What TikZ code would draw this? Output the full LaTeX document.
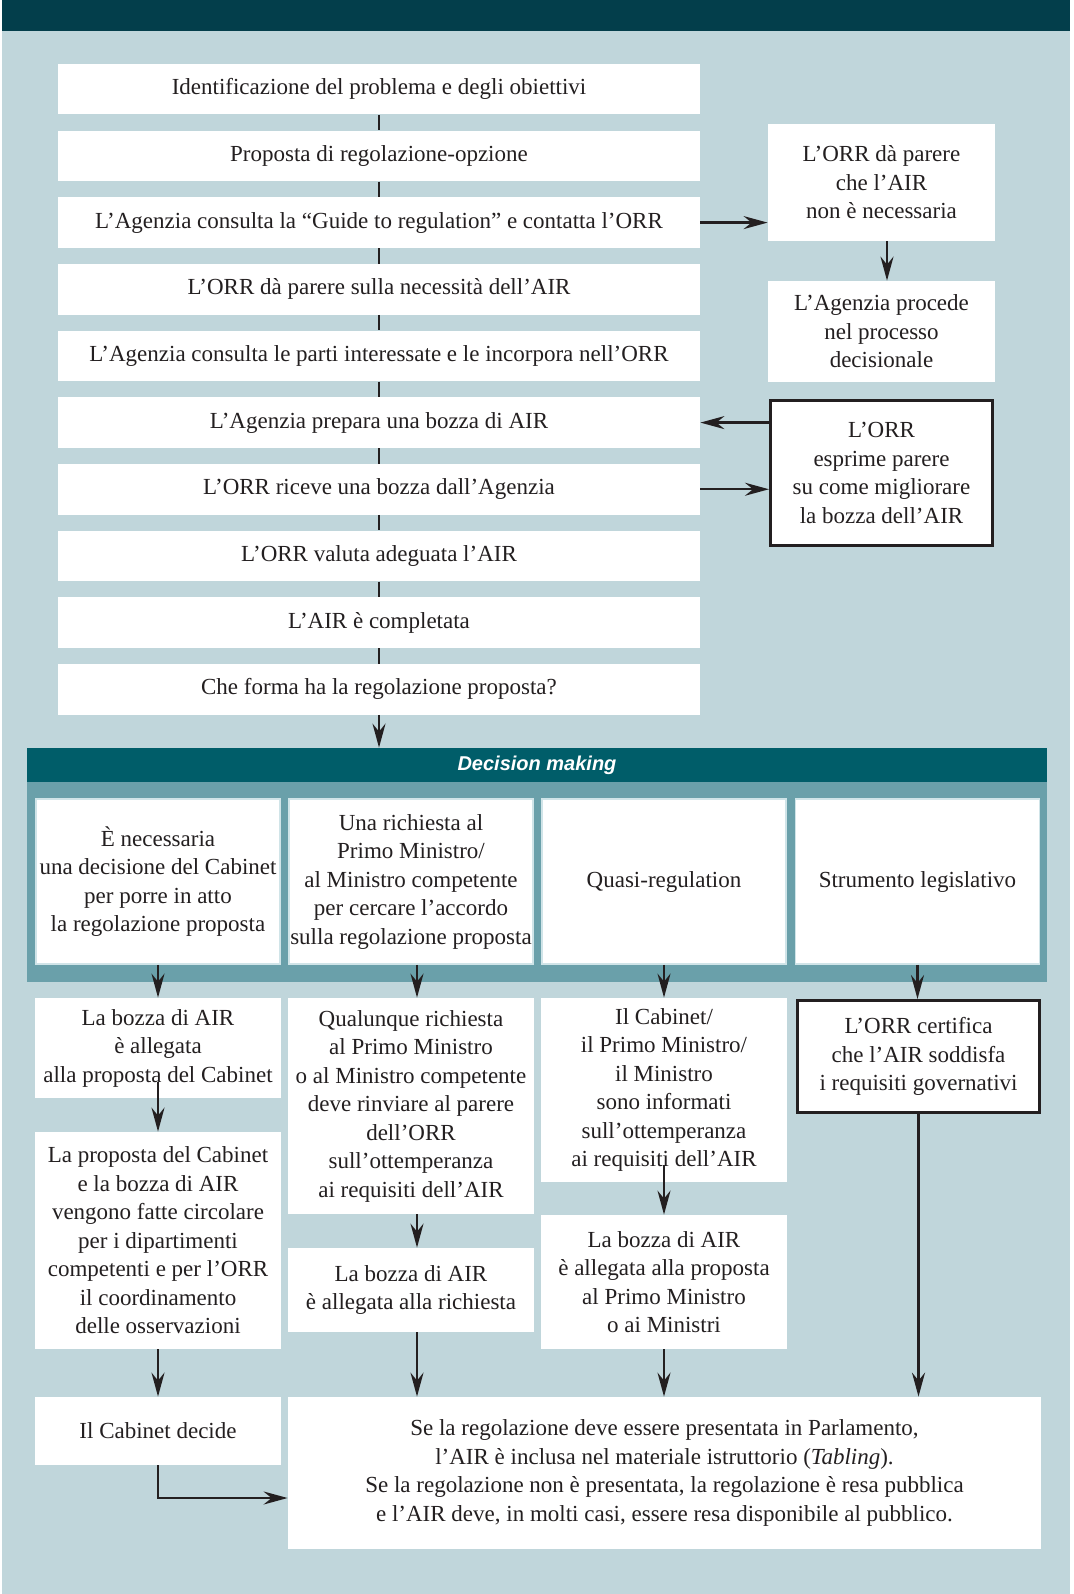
\documentclass[tikz,border=0pt]{standalone}
\usepackage{fontspec}
\setmainfont{Liberation Serif}
\newfontfamily\headfont{Liberation Sans}
\usetikzlibrary{arrows.meta}

\definecolor{topbar}{RGB}{3,62,75}
\definecolor{bgc}{RGB}{192,214,219}
\definecolor{dmhead}{RGB}{0,93,105}
\definecolor{dmframe}{RGB}{106,160,170}
\definecolor{innerline}{RGB}{208,228,232}
\definecolor{linec}{RGB}{35,31,32}

\begin{document}
\begin{tikzpicture}[x=0.5pt,y=-0.5pt,
  txt/.style={font=\fontsize{11.5}{14.25}\selectfont, align=center, inner sep=0pt, text=linec},
  box/.style={txt, fill=white},
  mainbox/.style={box, minimum width=321pt, minimum height=25.25pt},
  sidebox/.style={box, minimum width=113.5pt},
  colbox/.style={box, minimum width=123pt},
  framed/.style={draw=linec, line width=1.3pt},
  optbox/.style={box, draw=innerline, line width=0.75pt, minimum width=122pt, minimum height=82.5pt},
  link/.style={draw=linec, line width=1pt},
  arr/.style={draw=linec, line width=1.2pt, -{Stealth[length=12pt,width=6.5pt,inset=4pt]}}
]
\useasboundingbox (0,0) rectangle (1073,1594);
% page background and title band
\fill[white] (0,0) rectangle (1073,1594);
\fill[bgc] (2,0) rectangle (1070,1594);
\fill[topbar] (2,0) rectangle (1070,31);

% main sequence
\node[mainbox] (m1) at (379,89.25) {Identificazione del problema e degli obiettivi};
\node[mainbox] (m2) at (379,155.9) {Proposta di regolazione-opzione};
\node[mainbox] (m3) at (379,222.6) {L’Agenzia consulta la “Guide to regulation” e contatta l’ORR};
\node[mainbox] (m4) at (379,289.25) {L’ORR dà parere sulla necessità dell’AIR};
\node[mainbox] (m5) at (379,355.9) {L’Agenzia consulta le parti interessate e le incorpora nell’ORR};
\node[mainbox] (m6) at (379,422.6) {L’Agenzia prepara una bozza di AIR};
\node[mainbox] (m7) at (379,489.25) {L’ORR riceve una bozza dall’Agenzia};
\node[mainbox] (m8) at (379,555.9) {L’ORR valuta adeguata l’AIR};
\node[mainbox] (m9) at (379,622.6) {L’AIR è completata};
\node[mainbox] (m10) at (379,689.25) {Che forma ha la regolazione proposta?};

\foreach \a/\b in {m1/m2,m2/m3,m3/m4,m4/m5,m5/m6,m6/m7,m7/m8,m8/m9,m9/m10}
  \draw[link] (\a.south) -- (\b.north);

% side branch
\node[sidebox, minimum height=58.5pt] (r1) at (881.5,182.5) {L’ORR dà parere\\ che l’AIR\\ non è necessaria};
\node[sidebox, minimum height=50.5pt] (r2) at (881.5,331.5) {L’Agenzia procede\\ nel processo\\ decisionale};
\node[sidebox, framed, minimum width=111.2pt, minimum height=72.7pt] (r3) at (881.5,473) {L’ORR\\ esprime parere\\ su come migliorare\\ la bozza dell’AIR};

\draw[arr] (m3.east) -- (m3.east -| r1.west);
\draw[arr] ([xshift=2.75pt]r1.south) -- ([xshift=2.75pt]r2.north);
\draw[arr] (r3.west |- m6.east) -- (m6.east);
\draw[arr] (m7.east) -- (m7.east -| r3.west);

% decision making panel
\node[fill=dmframe, minimum width=510pt, minimum height=117pt, inner sep=0pt] (dmf) at (537,865) {};
\node[fill=dmhead, minimum width=510pt, minimum height=17pt, inner sep=0pt, text=white,
      font=\headfont\bfseries\itshape\fontsize{10}{12}\selectfont] (dm) at (537,765) {Decision making};
\draw[arr] (m10.south) -- (m10.south |- dm.north);

\node[optbox] (d1) at (158,881.5) {È necessaria\\ una decisione del Cabinet\\ per porre in atto\\ la regolazione proposta};
\node[optbox] (d2) at (411,881.5) {Una richiesta al\\ Primo Ministro/\\ al Ministro competente\\ per cercare l’accordo\\ sulla regolazione proposta};
\node[optbox] (d3) at (664,881.5) {Quasi-regulation};
\node[optbox] (d4) at (917.5,881.5) {Strumento legislativo};

% column 1
\node[colbox, minimum height=50pt] (c1a) at (158,1048) {La bozza di AIR\\ è allegata\\ alla proposta del Cabinet};
\node[colbox, minimum height=108.5pt] (c1b) at (158,1240.5) {La proposta del Cabinet\\ e la bozza di AIR\\ vengono fatte circolare\\ per i dipartimenti\\ competenti e per l’ORR\\ il coordinamento\\ delle osservazioni};
\node[colbox, minimum height=34pt] (c1c) at (158,1431) {Il Cabinet decide};
% column 2
\node[colbox, minimum height=108pt] (c2a) at (411,1106) {Qualunque richiesta\\ al Primo Ministro\\ o al Ministro competente\\ deve rinviare al parere\\ dell’ORR\\ sull’ottemperanza\\ ai requisiti dell’AIR};
\node[colbox, minimum height=42pt] (c2b) at (411,1290) {La bozza di AIR\\ è allegata alla richiesta};
% column 3
\node[colbox, minimum height=92pt] (c3a) at (664,1090) {Il Cabinet/\\ il Primo Ministro/\\ il Ministro\\ sono informati\\ sull’ottemperanza\\ ai requisiti dell’AIR};
\node[colbox, minimum height=67pt] (c3b) at (664,1282) {La bozza di AIR\\ è allegata alla proposta\\ al Primo Ministro\\ o ai Ministri};
% column 4
\node[box, framed, minimum width=121.2pt, minimum height=56.2pt] (c4a) at (918.5,1056.5) {L’ORR certifica\\ che l’AIR soddisfa\\ i requisiti governativi};
% closing box
\node[box, minimum width=376.5pt, minimum height=76pt] (fin) at (664.5,1473) {Se la regolazione deve essere presentata in Parlamento,\\ l’AIR è inclusa nel materiale istruttorio (\textit{Tabling}).\\ Se la regolazione non è presentata, la regolazione è resa pubblica\\ e l’AIR deve, in molti casi, essere resa disponibile al pubblico.};

% connectors of the lower part
\draw[arr] (d1.south) -- (c1a.north);
\draw[arr] ([xshift=3pt]d2.south) -- ([xshift=3pt]c2a.north);
\draw[arr] (d3.south) -- (c3a.north);
\draw[arr] (d4.south) -- (d4.south |- c4a.north);

\draw[arr] ([yshift=8pt]c1a.south) -- (c1b.north);
\draw[arr] (c1b.south) -- (c1c.north);
\draw[arr] (c1c.south) |- ([yshift=-12.5pt]fin.west);

\draw[arr] ([xshift=3pt]c2a.south) -- ([xshift=3pt]c2b.north);
\draw[arr] ([xshift=3pt]c2b.south) -- ([xshift=3pt]c2b.south |- fin.north);

\draw[arr] ([yshift=8.5pt]c3a.south) -- (c3b.north);
\draw[arr] (c3b.south) -- (c3b.south |- fin.north);

\draw[arr] (c4a.south) -- (c4a.south |- fin.north);
\end{tikzpicture}
\end{document}
